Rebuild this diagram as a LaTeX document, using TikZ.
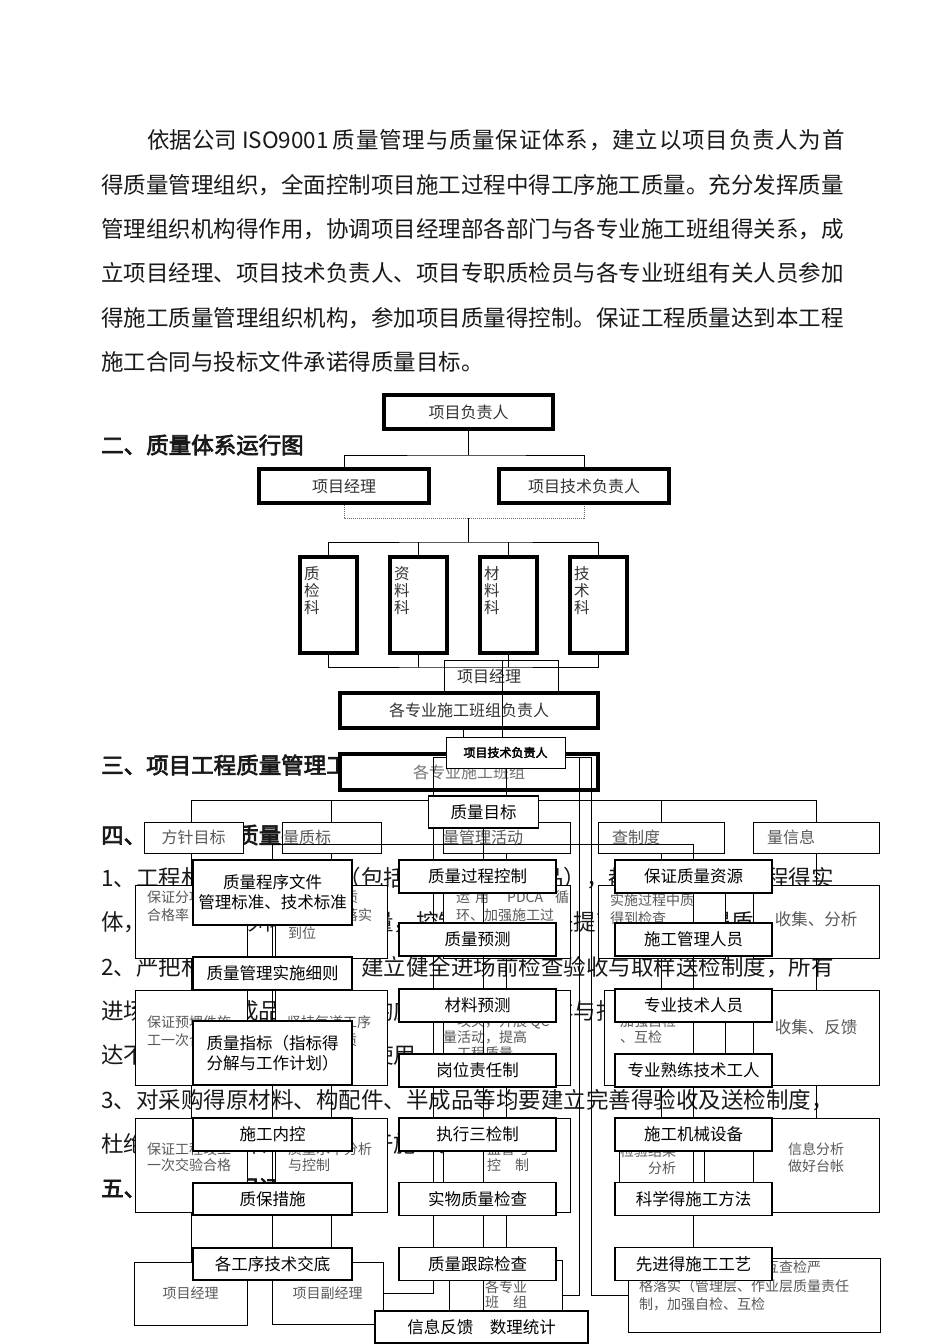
\documentclass[tikz,border=0pt]{standalone}
\usepackage{fontspec}
\setmainfont{Noto Sans CJK SC}[AutoFakeBold=3]
\usetikzlibrary{positioning}

\begin{document}
\begin{tikzpicture}[x=1pt,y=-1pt,
    para/.style={anchor=west,inner sep=0pt,text=black!90,font=\fontsize{22.5}{26}\selectfont},
    headline/.style={para,font=\fontsize{22.5}{26}\selectfont\bfseries},
    orgbox/.style={draw,line width=4pt,fill=white,inner sep=0pt,text=black!80,font=\fontsize{16}{18}\selectfont},
    vlabel/.style={inner sep=0pt,align=left,text=black!80,font=\fontsize{15.5}{17}\selectfont},
    thinbox/.style={draw,line width=1pt,inner sep=0pt,text=black!80,font=\fontsize{16}{18}\selectfont},
    abox/.style={draw,line width=1pt,fill=white,inner sep=0pt},
    atext/.style={anchor=north west,inner sep=0pt,align=left,text=black!65,font=\fontsize{14}{18}\selectfont},
    ahead/.style={anchor=west,inner sep=0pt,text=black!65,font=\fontsize{16}{18}\selectfont},
    bbox/.style={draw,line width=1.2pt,fill=white,inner sep=0pt,align=center,
      minimum width=157pt,minimum height=33pt,font=\fontsize{16.5}{20}\selectfont},
    link/.style={line width=1pt}
  ]
  \fill[white] (0,0) rectangle (950,1344);
  \useasboundingbox (0,0) rectangle (950,1344);

  % text of the page
  \node[para] (p1a) at (147,140) {依据公司 ISO9001};
  \node[para,anchor=east] (p1b) at (845,140) {\addfontfeature{LetterSpace=3.6}质量管理与质量保证体系，建立以项目负责人为首};
  \node[para] (p2) at (101,185) {得质量管理组织，全面控制项目施工过程中得工序施工质量。充分发挥质量};
  \node[para] (p3) at (101,229) {管理组织机构得作用，协调项目经理部各部门与各专业施工班组得关系，成};
  \node[para] (p4) at (101,273) {立项目经理、项目技术负责人、项目专职质检员与各专业班组有关人员参加};
  \node[para] (p5) at (101,318) {得施工质量管理组织机构，参加项目质量得控制。保证工程质量达到本工程};
  \node[para] (p6) at (101,362) {施工合同与投标文件承诺得质量目标。};
  \node[headline] (hd2) at (101,445) {二、质量体系运行图};
  \node[headline] (hd3) at (101,765) {三、项目工程质量管理工作流程};
  \node[headline] (hd4) at (101,835) {四、工程材料质量控制};
  \node[para] (q1) at (101,878) {1、工程材料得质量控制（包括原材料、半成品），都是构成建筑工程得实};
  \node[para] (q2) at (101,922) {体，材料质量影响着工程质量，控制材料质量是提高整个工程得质量保证。};
  \node[para] (q3) at (101,967) {2、严把材料进场质量关，建立健全进场前检查验收与取样送检制度，所有};
  \node[para] (q4) at (101,1011) {进场材料、半成品、构配件均应按规定进行取样与抽检，检验结果中，凡是};
  \node[para] (q5) at (101,1055) {达不到质量要求得材料严禁使用。};
  \node[para] (q6) at (101,1100) {3、对采购得原材料、构配件、半成品等均要建立完善得验收及送检制度，};
  \node[para] (q7) at (101,1144) {杜绝不合格材料、构配件用于施工。};
  \node[headline] (hd5) at (101,1188) {五、施工质量保证措施};

  % organisation chart
  \node[orgbox,minimum width=169pt,minimum height=34pt] (fzr) at (468.5,412) {项目负责人};
  \node[orgbox,minimum width=170pt,minimum height=34pt] (xmjl) at (344,486) {项目经理};
  \node[orgbox,minimum width=170pt,minimum height=34pt] (jsfzr) at (584,486) {项目技术负责人};
  \foreach \n/\x/\t in {zjk/328.5/{质\\检\\科}, zlk/418.5/{资\\料\\科},
                        clk/508.5/{材\\料\\科}, jsk/598.5/{技\\术\\科}} {
    \node[orgbox,minimum width=57pt,minimum height=96pt] (\n) at (\x,605) {};
    \node[vlabel,below right=11pt and 6pt of \n.north west] (\n t) {\t};
  }
  \coordinate (h1) at (468.5,455);
  \coordinate (h2) at (468.5,518);
  \coordinate (h3) at (468.5,542);
  \coordinate (h4) at (468.5,667);
  \draw[link] (fzr.south) -- (h1);
  \draw[link] (xmjl.north) |- (h1) -| (jsfzr.north);
  \draw[link,densely dotted,black!60] (xmjl.south) |- (h2) -| (jsfzr.south);
  \draw[link] (h2) -- (h3);
  \draw[link] (zjk.north) |- (h3) -| (jsk.north);
  \draw[link] (zlk.north) -- (zlk.north |- h3);
  \draw[link] (clk.north) -- (clk.north |- h3);
  \draw[link] (zjk.south) |- (h4) -| (jsk.south);
  \draw[link] (zlk.south) -- (zlk.south |- h4);
  \draw[link] (clk.south) -- (clk.south |- h4);

  \node[thinbox,minimum width=114pt,minimum height=32pt] (xmjl2) at (501,676) {\hspace*{-24pt}项目经理};
  \node[orgbox,minimum width=258pt,minimum height=35pt] (bzfzr) at (469,710.5) {各专业施工班组负责人};
  \node[orgbox,text=black!55,minimum width=258pt,minimum height=36pt] (bz) at (469,772) {各专业施工班组};
  \node[draw,line width=1pt,fill=white,inner sep=0pt,minimum width=119pt,minimum height=31pt,
        font=\fontsize{12}{14}\selectfont\bfseries] (jsfzr2) at (505.5,752.5) {项目技术负责人};
  \coordinate (m1) at (502,660);
  \coordinate (m2) at (463,730);
  \coordinate (k1) at (433,757);
  \coordinate (k2) at (579,757);
  \coordinate (k3) at (591,757);
  \coordinate (atop) at (0,800);
  \draw[link] (m1) -- (m1 |- jsfzr2.north);
  \draw[link] (m2) -- (m2 |- jsfzr2.north);

  % first chart (thin boxes)
  \node[abox,minimum width=99pt,minimum height=31pt,text=black!65,font=\fontsize{16}{18}\selectfont] (a11) at (193.5,837.5) {方针目标};
  \node[abox,minimum width=99pt,minimum height=31pt] (a12) at (331.5,837.5) {};
  \node[abox,minimum width=127pt,minimum height=31pt] (a13) at (506.5,837.5) {};
  \node[abox,minimum width=126pt,minimum height=31pt] (a14) at (661,837.5) {};
  \node[abox,minimum width=126pt,minimum height=31pt] (a15) at (816,837.5) {};
  \foreach \r/\y/\h/\cx/\w in {2/921.5/73/661.5/127, 3/1037.5/95/664.5/121, 4/1165/94/661.5/85} {
    \node[abox,minimum width=112pt,minimum height=\h*1pt] (a\r1) at (191,\y) {};
    \node[abox,minimum width=112pt,minimum height=\h*1pt] (a\r2) at (331,\y) {};
    \node[abox,minimum width=127pt,minimum height=\h*1pt] (a\r3) at (506.5,\y) {};
    \node[abox,minimum width=\w*1pt,minimum height=\h*1pt] (a\r4) at (\cx,\y) {};
    \node[abox,minimum width=126pt,minimum height=\h*1pt] (a\r5) at (816,\y) {};
  }
  \node[abox,minimum width=113pt,minimum height=63pt,text=black!65,font=\fontsize{14}{16}\selectfont] (a51) at (190.5,1293.5) {项目经理};
  \node[abox,minimum width=111pt,minimum height=62pt,text=black!65,font=\fontsize{14}{16}\selectfont] (a52) at (327.5,1293) {项目副经理};
  \node[abox,minimum width=113pt,minimum height=70pt] (a53) at (505.5,1295) {};
  \node[abox,minimum width=252pt,minimum height=74pt] (a54) at (754,1295) {};

  \node[ahead] (t12) at (283,837.5) {量质标};
  \node[ahead] (t13) at (443,837.5) {量管理活动};
  \node[ahead] (t14) at (612,837.5) {查制度};
  \node[ahead] (t15) at (767,837.5) {量信息};
  \node[atext] (t21) at (147,890.5) {保证分项工程\\合格率};
  \node[atext] (t22) at (288,890.5) {指标分解质\\量责任要落实\\到位};
  \node[atext] (t23) at (456,890.5) {运\hspace{5pt}用\hspace{18pt}PDCA\hspace{12pt}循\\环、加强施工过\\程控制};
  \node[atext] (t24) at (610,893) {实施过程中质\\得到检查};
  \node[ahead,anchor=center,font=\fontsize{16.5}{18}\selectfont] (t25) at (816,919) {收集、分析};
  \node[atext] (t31) at (147,1015.5) {保证预埋件施\\工一次合格};
  \node[atext] (t32) at (287,1015.5) {坚持每道工序\\检查确保质\\量};
  \node[atext,font=\fontsize{14}{16}\selectfont] (t33) at (457,1014.5) {攻关，开展 QC\\\hspace*{-14pt}量活动，提高\\工程质量};
  \node[atext,font=\fontsize{14}{16}\selectfont] (t34) at (620,1014.5) {加强自检\\、互检};
  \node[ahead,anchor=center,font=\fontsize{16.5}{18}\selectfont] (t35) at (816,1027) {收集、反馈};
  \node[atext,font=\fontsize{14}{16}\selectfont] (t41) at (147,1142.5) {保证工程竣工\\一次交验合格};
  \node[atext,font=\fontsize{14}{16}\selectfont] (t42) at (288,1142.5) {质量水平分析\\与控制};
  \node[atext,font=\fontsize{14}{16}\selectfont] (t43) at (487,1142.5) {监督与\\控\hspace{14pt}制};
  \node[atext,font=\fontsize{14}{17}\selectfont] (t44) at (620,1144.5) {检验结果\\\hspace*{28pt}分析};
  \node[atext,font=\fontsize{14}{17}\selectfont] (t45) at (788,1142.5) {信息分析\\做好台帐};
  \node[atext,font=\fontsize{14}{15}\selectfont] (t53) at (485,1280.5) {各专业\\班\hspace{14pt}组};
  \node[atext,font=\fontsize{14}{18.5}\selectfont] (t54) at (639,1260.5) {实行三检制度，质量互查检严\\格落实（管理层、作业层质量责任\\制，加强自检、互检};

  \draw[link] (a21 |- atop) -- (a25 |- atop);
  \foreach \c in {1,...,5} {
    \draw[link] (a2\c |- atop) -- (a2\c |- a1\c.north);
    \draw[link] (a2\c.north) -- (a2\c |- a1\c.south);
    \draw[link] (a2\c.south) -- (a2\c |- a3\c.north);
    \draw[link] (a2\c |- a3\c.south) -- (a2\c |- a4\c.north);
  }
  \foreach \c in {1,2,3}
    \draw[link] (a2\c |- a4\c.south) -- (a2\c |- a5\c.north);
  \draw[link] (jsfzr2.south -| a13) -- (a13 |- atop);
  \draw[link] (jsfzr2.west |- k1) -| (a52.east -| k1) -- (a52.east);
  \draw[link] (jsfzr2.east |- k1) -- (k3) |- (a54.west);
  \draw[link] (k2) |- (a53.east);

  % second chart (quality system)
  \node[bbox,minimum width=110pt,minimum height=32pt] (zlmb) at (483.5,812) {质量目标};
  \foreach \n/\y/\h/\t in {1/892.5/65/{质量程序文件\\管理标准、技术标准}, 2/973.5/33/质量管理实施细则,
      3/1053/64/{质量指标（指标得\\分解与工作计划）}, 4/1134.5/33/施工内控,
      5/1199/32/质保措施, 6/1264/32/各工序技术交底}
    \node[bbox,minimum width=159pt,minimum height=\h*1pt] (b1\n) at (272.5,\y) {\t};
  \foreach \n/\y/\t in {1/876.5/质量过程控制, 2/939.5/质量预测, 3/1005.5/材料预测, 4/1070.5/岗位责任制,
      5/1134.5/执行三检制, 6/1199/实物质量检查, 7/1264/质量跟踪检查}
    \node[bbox] (b2\n) at (477.5,\y) {\t};
  \node[bbox,minimum width=213pt,minimum height=32pt] (b28) at (481.5,1327) {信息反馈\quad 数理统计};
  \foreach \n/\y/\t in {1/876.5/保证质量资源, 2/939.5/施工管理人员, 3/1005.5/专业技术人员, 4/1070.5/专业熟练技术工人,
      5/1134.5/施工机械设备, 6/1199/科学得施工方法, 7/1264/先进得施工工艺}
    \node[bbox] (b3\n) at (693.5,\y) {\t};

  \coordinate (bh) at (0,844);
  \draw[link] (b11.north) |- (zlmb |- bh) -| (b31.north);
  \draw[link] (zlmb.south) -- (zlmb |- b21.north);
  \foreach \r [count=\s from 2] in {1,...,5}
    \draw[link] (b1\r.south) -- (b1\s.north);
  \foreach \r [count=\s from 2] in {1,...,7} {
    \draw[link] (b2\r.south -| zlmb) -- (b2\s.north -| zlmb);
  }
  \foreach \r [count=\s from 2] in {1,...,6}
    \draw[link] (b3\r.south) -- (b3\s.north);
\end{tikzpicture}
\end{document}
